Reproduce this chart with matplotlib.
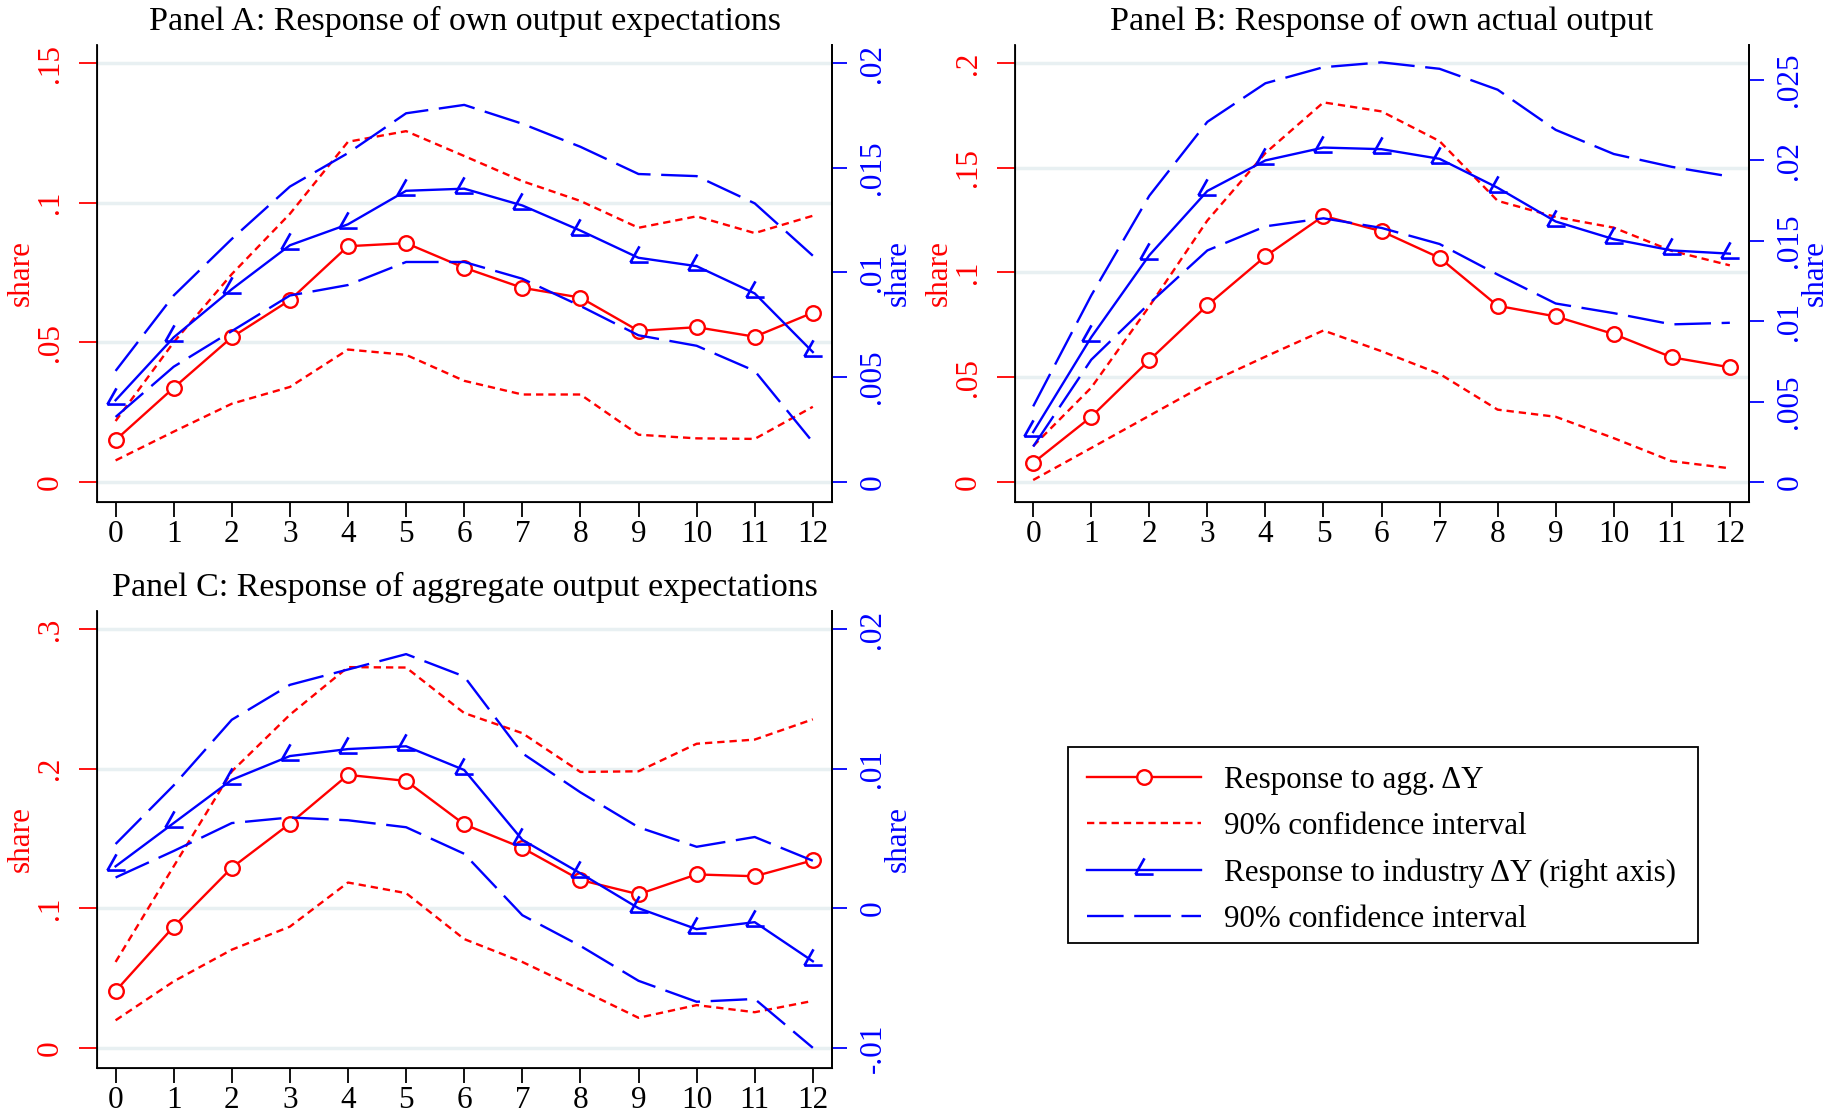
import numpy as np
import matplotlib.pyplot as plt
from matplotlib.path import Path
from matplotlib.lines import Line2D
from matplotlib.patches import Rectangle

plt.rcParams['font.family'] = ['Liberation Serif', 'DejaVu Serif']

W, H = 1837, 1113
RED = '#ff0000'
BLUE = '#0000ff'
GRID = '#e8f0f2'

horizon = list(range(13))

# Panel A: own output expectations
a_agg = [0.015, 0.0337, 0.0518, 0.0651, 0.0844, 0.0855, 0.0767, 0.0695, 0.066, 0.0541, 0.0554, 0.052, 0.0606]
a_agg_hi = [0.0218, 0.050, 0.0744, 0.096, 0.1218, 0.1256, 0.1167, 0.1077, 0.1006, 0.091, 0.0951, 0.0891, 0.0953]
a_agg_lo = [0.0077, 0.018, 0.028, 0.034, 0.0474, 0.0455, 0.0362, 0.0313, 0.0313, 0.0169, 0.0156, 0.0154, 0.0269]
a_ind = [0.0039, 0.0069, 0.0092, 0.0113, 0.0123, 0.0139, 0.0140, 0.0132, 0.0120, 0.0107, 0.0103, 0.0090, 0.0062]
a_ind_hi = [0.0053, 0.0089, 0.0116, 0.0141, 0.0157, 0.0176, 0.0180, 0.0171, 0.0160, 0.0147, 0.0146, 0.0133, 0.0108]
a_ind_lo = [0.0031, 0.0055, 0.0072, 0.0089, 0.0094, 0.0105, 0.0105, 0.0097, 0.0084, 0.0070, 0.0065, 0.0053, 0.0019]

# Panel B: own actual output
b_agg = [0.0091, 0.0311, 0.0581, 0.0843, 0.1077, 0.127, 0.1197, 0.107, 0.0841, 0.079, 0.0706, 0.0595, 0.0547]
b_agg_hi = [0.0171, 0.045, 0.0838, 0.1248, 0.157, 0.1812, 0.1769, 0.1627, 0.1342, 0.1265, 0.1214, 0.1103, 0.1034]
b_agg_lo = [0.0009, 0.0162, 0.0316, 0.047, 0.0598, 0.0723, 0.0624, 0.0516, 0.0345, 0.0311, 0.0209, 0.0099, 0.0065]
b_ind = [0.0031, 0.0090, 0.0141, 0.0181, 0.0200, 0.0208, 0.0207, 0.0201, 0.0183, 0.0162, 0.0151, 0.0144, 0.0142]
b_ind_hi = [0.0047, 0.0116, 0.0178, 0.0224, 0.0248, 0.0258, 0.0261, 0.0257, 0.0244, 0.0219, 0.0204, 0.0196, 0.0190]
b_ind_lo = [0.0022, 0.0076, 0.0111, 0.0144, 0.0159, 0.0164, 0.0158, 0.0148, 0.0129, 0.0111, 0.0105, 0.0098, 0.0099]

# Panel C: aggregate output expectations
c_agg = [0.0407, 0.0868, 0.129, 0.1606, 0.1955, 0.1912, 0.1601, 0.1432, 0.1202, 0.11, 0.1242, 0.1229, 0.1343]
c_agg_hi = [0.0615, 0.13, 0.198, 0.2386, 0.2727, 0.2724, 0.2398, 0.2254, 0.1976, 0.1981, 0.2178, 0.2208, 0.2353]
c_agg_lo = [0.0197, 0.0476, 0.0703, 0.0868, 0.1184, 0.1108, 0.0779, 0.0615, 0.0417, 0.0215, 0.0306, 0.0255, 0.0336]
c_ind = [0.0030, 0.0061, 0.0092, 0.0109, 0.0114, 0.0116, 0.0099, 0.0049, 0.0025, 0.0000, -0.0015, -0.0010, -0.0038]
c_ind_hi = [0.0046, 0.0088, 0.0135, 0.0160, 0.0171, 0.0182, 0.0166, 0.0111, 0.0083, 0.0058, 0.0044, 0.0051, 0.0034]
c_ind_lo = [0.0022, 0.0041, 0.0061, 0.0065, 0.0063, 0.0058, 0.0039, -0.0005, -0.0027, -0.0052, -0.0067, -0.0065, -0.0100]

a_left_ticks = [0, 0.05, 0.1, 0.15]
a_left_labels = ['0', '.05', '.1', '.15']
a_right_ticks = [0, 0.005, 0.01, 0.015, 0.02]
a_right_labels = ['0', '.005', '.01', '.015', '.02']
b_left_ticks = [0, 0.05, 0.1, 0.15, 0.2]
b_left_labels = ['0', '.05', '.1', '.15', '.2']
b_right_ticks = [0, 0.005, 0.01, 0.015, 0.02, 0.025]
b_right_labels = ['0', '.005', '.01', '.015', '.02', '.025']
c_left_ticks = [0, 0.1, 0.2, 0.3]
c_left_labels = ['0', '.1', '.2', '.3']
c_right_ticks = [-0.01, 0, 0.01, 0.02]
c_right_labels = ['-.01', '0', '.01', '.02']

legend_labels = ['Response to agg. \u0394Y', '90% confidence interval',
                 'Response to industry \u0394Y (right axis)', '90% confidence interval']

# angle-shaped marker (Stata style): flat foot, steep arm from the left end
angle_marker = Path([(-9, -4), (9, -4), (-9, -4), (0, 12)],
                    [Path.MOVETO, Path.LINETO, Path.MOVETO, Path.LINETO])

LW = 1.7
FS = 22.5
red_dash = (0, (3.1, 2.1))
blue_dash = (0, (15.5, 4.5))

red_main = dict(color=RED, lw=LW, marker='o', ms=10.5, mew=LW, mfc='white', mec=RED)
red_ci = dict(color=RED, lw=LW, linestyle=red_dash)
blue_main = dict(color=BLUE, lw=LW, marker=angle_marker, ms=17.5, mew=1.9, mfc='none', mec=BLUE)
blue_ci = dict(color=BLUE, lw=LW, linestyle=blue_dash)

fig = plt.figure(figsize=(W / 100, H / 100), dpi=100)


def set_lims(ax, lo, hi, pb=0.047, pt=0.043):
    span = hi - lo
    ax.set_ylim(lo - pb * span, hi + pt * span)


def panel(box, title, title_y, agg, agg_lo, agg_hi, ind, ind_lo, ind_hi,
          lt, ltl, rt, rtl, lrange, rrange):
    x0, y0, x1, y1 = box
    ax = fig.add_axes([x0 / W, 1 - y1 / H, (x1 - x0) / W, (y1 - y0) / H])
    ax.set_axisbelow(True)
    ax.set_xlim(-0.32, 12.33)

    ax.plot(horizon, agg_hi, **red_ci)
    ax.plot(horizon, agg_lo, **red_ci)
    ax.plot(horizon, agg, **red_main)
    set_lims(ax, *lrange)
    ax.set_yticks(lt)
    ax.set_yticklabels(ltl, rotation=90, va='center', fontsize=FS)
    ax.tick_params(axis='y', colors=RED, length=13, width=1.3, pad=10)
    ax.yaxis.grid(True, color=GRID, lw=2.5)
    ax.set_xticks(horizon)
    ax.set_xticklabels([str(h) for h in horizon], fontsize=FS)
    ax.tick_params(axis='x', length=11, width=1.3, pad=2.5, colors='black')
    ax.spines['top'].set_visible(False)
    for s in ('left', 'bottom', 'right'):
        ax.spines[s].set_linewidth(1.3)
    ax.text(-0.103, 0.5, 'share', transform=ax.transAxes, rotation=90,
            ha='center', va='center', color=RED, fontsize=FS)

    ax2 = ax.twinx()
    ax2.plot(horizon, ind_hi, **blue_ci)
    ax2.plot(horizon, ind_lo, **blue_ci)
    ax2.plot(horizon, ind, **blue_main)
    set_lims(ax2, *rrange)
    ax2.set_yticks(rt)
    ax2.set_yticklabels(rtl, rotation=90, va='center', fontsize=FS)
    ax2.tick_params(axis='y', colors=BLUE, length=11, width=1.3, pad=8)
    ax2.spines['top'].set_visible(False)
    ax2.spines['right'].set_linewidth(1.3)
    ax2.text(1.09, 0.5, 'share', transform=ax.transAxes, rotation=90,
             ha='center', va='center', color=BLUE, fontsize=FS)

    fig.text((x0 + x1) / 2 / W, 1 - title_y / H, title, ha='center', va='center',
             fontsize=24.5)
    return ax


panel((97, 45, 832, 501.6), 'Panel A: Response of own output expectations', 21,
      a_agg, a_agg_lo, a_agg_hi, a_ind, a_ind_lo, a_ind_hi,
      a_left_ticks, a_left_labels, a_right_ticks, a_right_labels, (0, 0.15), (0, 0.02))
panel((1014.6, 45, 1749, 501.6), 'Panel B: Response of own actual output', 21,
      b_agg, b_agg_lo, b_agg_hi, b_ind, b_ind_lo, b_ind_hi,
      b_left_ticks, b_left_labels, b_right_ticks, b_right_labels, (0, 0.2), (0, 0.02606))
panel((97, 611, 832, 1067.5), 'Panel C: Response of aggregate output expectations', 587,
      c_agg, c_agg_lo, c_agg_hi, c_ind, c_ind_lo, c_ind_hi,
      c_left_ticks, c_left_labels, c_right_ticks, c_right_labels, (0, 0.3), (-0.01, 0.02))

# legend box drawn separately so its size matches the reference
fig.patches.append(Rectangle((1068 / W, 1 - 943 / H), 630 / W, 196 / H,
                             transform=fig.transFigure, fill=False,
                             edgecolor='black', lw=1.3))
handles = [Line2D([], [], **red_main), Line2D([], [], **red_ci),
           Line2D([], [], **blue_main), Line2D([], [], **blue_ci)]
leg = fig.legend(handles, legend_labels, loc='upper left',
                 bbox_to_anchor=(1068 / W, 1 - 747 / H), fontsize=22.3,
                 frameon=False, handlelength=3.7, handletextpad=0.75,
                 labelspacing=0.56, borderpad=0.6, numpoints=1, borderaxespad=0)

fig.savefig('out.png', dpi=100)
